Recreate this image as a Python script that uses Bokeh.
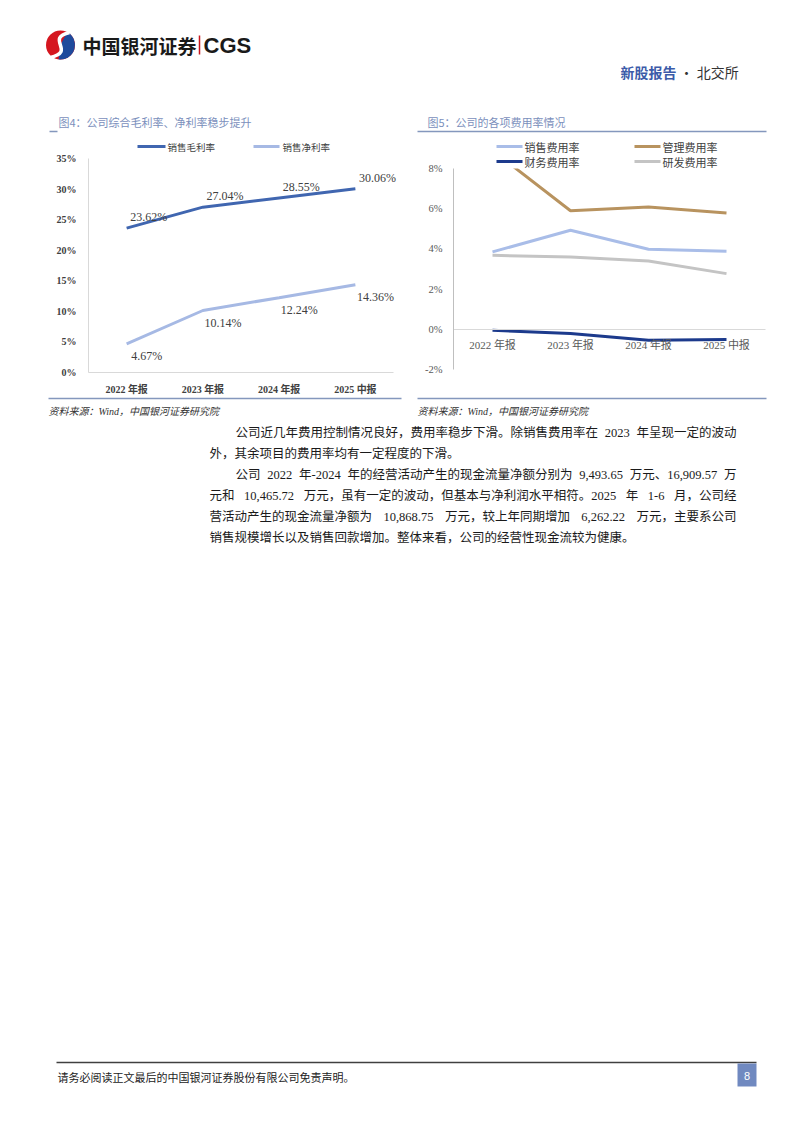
from bokeh.plotting import figure
from bokeh.models import Range1d, LinearAxis, FixedTicker, PrintfTickFormatter
from bokeh.core.properties import value
from bokeh.embed import file_html
from bokeh.resources import INLINE

# ---------------- data ----------------
categories = ["2022 年报", "2023 年报", "2024 年报", "2025 中报"]
gross_margin = [23.62, 27.04, 28.55, 30.06]
net_margin = [4.67, 10.14, 12.24, 14.36]
selling_rate = [3.85, 4.93, 3.98, 3.88]
admin_rate = [8.90, 5.90, 6.08, 5.79]
finance_rate = [-0.05, -0.21, -0.55, -0.51]
rd_rate = [3.68, 3.60, 3.40, 2.77]
c4_ticks = [0, 5, 10, 15, 20, 25, 30, 35]
c5_ticks = [-2, 0, 2, 4, 6, 8]
c4_series = ["销售毛利率", "销售净利率"]
c5_series = ["销售费用率", "管理费用率", "财务费用率", "研发费用率"]

body_lines = [
    "公司近几年费用控制情况良好，费用率稳步下滑。除销售费用率在 2023 年呈现一定的波动",
    "外，其余项目的费用率均有一定程度的下滑。",
    "公司 2022 年-2024 年的经营活动产生的现金流量净额分别为 9,493.65 万元、16,909.57 万",
    "元和 10,465.72 万元，虽有一定的波动，但基本与净利润水平相符。2025 年 1-6 月，公司经",
    "营活动产生的现金流量净额为 10,868.75 万元，较上年同期增加 6,262.22 万元，主要系公司",
    "销售规模增长以及销售回款增加。整体来看，公司的经营性现金流较为健康。",
]
body_indent = [True, False, True, False, False, False]
body_justified = [True, False, True, True, True, False]

# ---------------- layout ----------------
W, H = 778, 1107
X0, Y0 = 0, 0
X1, Y1 = X0 + W, Y0 + H

CJK_NAME = "Noto Sans CJK SC"
SERIF_NAME = "Liberation Serif"
MIX_NAME = "Liberation Serif, Noto Sans CJK SC"
CJK = value(CJK_NAME)
SERIF = value(SERIF_NAME)
MIX = value(MIX_NAME)


def lin_range(v0, p0, v1, p1, start_px, end_px):
    k = (v1 - v0) / (p1 - p0)
    return Range1d(v0 + (start_px - p0) * k, v0 + (end_px - p0) * k)


idx = list(range(len(categories)))
n = len(categories)

p = figure(width=W, height=H, x_range=Range1d(X0, X1), y_range=Range1d(Y1, Y0),
           x_axis_type=None, y_axis_type=None, toolbar_location=None,
           output_backend="svg", min_border=0, outline_line_color=None,
           background_fill_color="white", border_fill_color="white")

# chart 4 plot area: x 88..393, y 0% -> 372, 35% -> 158
# chart 5 plot area: x 453..765, y 8% -> 168, -2% -> 369
p.extra_x_ranges = {
    "c4x": lin_range(-0.5, 88, n - 0.5, 393, X0, X1),
    "c5x": lin_range(-0.5, 453, n - 0.5, 765, X0, X1),
}
p.extra_y_ranges = {
    "c4y": lin_range(0, 372, 35, 158, Y1, Y0),
    "c5y": lin_range(-2, 369, 8, 168, Y1, Y0),
}


def make_axis(kind, xr, yr, loc, bounds, ticks, line_color, font, size, style, color, standoff, overrides=None, fmt=None):
    ax = LinearAxis(x_range_name=xr, y_range_name=yr, fixed_location=loc, bounds=bounds,
                    ticker=FixedTicker(ticks=ticks), axis_line_color=line_color,
                    axis_line_width=1, major_tick_line_color=None, minor_tick_line_color=None,
                    major_tick_out=0, major_tick_in=0, major_label_standoff=standoff,
                    major_label_text_font=font, major_label_text_font_size=size,
                    major_label_text_font_style=style, major_label_text_color=color)
    if overrides is not None:
        ax.major_label_overrides = overrides
    if fmt is not None:
        ax.formatter = PrintfTickFormatter(format=fmt)
    p.add_layout(ax, kind)
    return ax


cat_over = {i: c for i, c in enumerate(categories)}

# ---------- chart 4 ----------
make_axis("left", "c4x", "c4y", -0.5, (0, 35), c4_ticks, "#d9d9d9", SERIF_NAME, "10px", "bold", "#404040", 12, fmt="%d%%")
make_axis("below", "c4x", "c4y", 0, (-0.5, n - 0.5), idx, "#d9d9d9", MIX_NAME, "10px", "bold", "#404040", 11, overrides=cat_over)

c4_colors = ["#4066b0", "#a6b9e4"]
p.line(idx, gross_margin, x_range_name="c4x", y_range_name="c4y", line_color=c4_colors[0], line_width=3)
p.line(idx, net_margin, x_range_name="c4x", y_range_name="c4y", line_color=c4_colors[1], line_width=3)
p.text(idx, gross_margin, text=[f"{v:.2f}%" for v in gross_margin], x_range_name="c4x", y_range_name="c4y",
       text_font=SERIF, text_font_size="12px", text_color="#404040", text_align="center",
       text_baseline="middle", x_offset=22, y_offset=-11)
p.text(idx, net_margin, text=[f"{v:.2f}%" for v in net_margin], x_range_name="c4x", y_range_name="c4y",
       text_font=SERIF, text_font_size="12px", text_color="#404040", text_align="center",
       text_baseline="middle", x_offset=20, y_offset=12)

# ---------- chart 5 ----------
c5_colors = ["#a9bde8", "#b8935f", "#1c3a8c", "#c4c4c4"]
make_axis("left", "c5x", "c5y", -0.5, (-2, 8), c5_ticks, "#bfbfbf", SERIF_NAME, "10.5px", "normal", "#595959", 11, fmt="%d%%")
make_axis("below", "c5x", "c5y", 0, (-0.5, n - 0.5), idx, "#d9d9d9", MIX_NAME, "11px", "normal", "#595959", 10, overrides=cat_over)
for series, col in zip([rd_rate, selling_rate, admin_rate, finance_rate],
                       [c5_colors[3], c5_colors[0], c5_colors[1], c5_colors[2]]):
    p.line(idx, series, x_range_name="c5x", y_range_name="c5y", line_color=col, line_width=3)
# plot-area clipping above the 8% limit
p.quad(left=-0.5, right=n - 0.5, bottom=max(c5_ticks), top=p.extra_y_ranges["c5y"].end,
       x_range_name="c5x", y_range_name="c5y", fill_color="white", line_color=None)

# ---------- page decorations (page pixel coordinates) ----------
# logo
p.circle(x=[60], y=[44.5], radius=14.5, fill_color="#d5161f", line_color=None)
p.wedge(x=[60], y=[44.5], radius=14.5, start_angle=-1.7, end_angle=1.1, fill_color="#1f4a9c", line_color=None)
p.bezier(x0=[69], y0=[32], x1=[50], y1=[57], cx0=[44], cy0=[38], cx1=[76], cy1=[51],
         line_color="white", line_width=3.5)
p.text([82], [44.5], text=["中国银河证券"], text_font=CJK, text_font_size="19px", text_font_style="bold",
       text_color="#1a1a1a", text_baseline="middle")
p.segment(x0=[199], y0=[35], x1=[199], y1=[54], line_color="#c8161e", line_width=1.5)
p.text([203], [45], text=["CGS"], text_font=value("Liberation Sans"), text_font_size="22px",
       text_font_style="bold", text_color="#1a1a1a", text_baseline="middle")
p.text([620], [71], text=["新股报告"], text_font=CJK, text_font_size="14px", text_font_style="bold",
       text_color="#3c5ba9", text_baseline="middle")
p.text([679], [71], text=["· 北交所"], text_font=CJK, text_font_size="14px",
       text_color="#333333", text_baseline="middle")

# chart titles / rules
p.text([58], [121], text=["图4：公司综合毛利率、净利率稳步提升"], text_font=CJK, text_font_size="11px",
       text_color="#7b8fbc", text_baseline="middle")
p.text([427], [121], text=["图5：公司的各项费用率情况"], text_font=CJK, text_font_size="11px",
       text_color="#7b8fbc", text_baseline="middle")
p.segment(x0=[49, 417, 48, 417], y0=[131, 131, 398, 398], x1=[57, 766, 401, 766], y1=[131, 131, 398, 398],
          line_color="#8497bd", line_width=1.3)
p.text([48, 417], [410.5, 410.5], text=["资料来源：Wind，中国银河证券研究院"] * 2, text_font=MIX, text_font_size="10px",
       text_font_style="italic", text_color="#333333", text_baseline="middle")

# chart 4 legend
p.segment(x0=[137, 253], y0=[146, 146], x1=[165, 279], y1=[146, 146], line_color=c4_colors, line_width=3)
p.text([167, 282], [146, 146], text=c4_series, text_font=CJK, text_font_size="9.5px",
       text_color="#404040", text_baseline="middle")

# chart 5 legend
lx = [496, 634, 496, 634]
ly = [146, 146, 161, 161]
p.segment(x0=lx, y0=ly, x1=[v + 26 for v in lx], y1=ly, line_color=c5_colors, line_width=3)
p.text([v + 28 for v in lx], ly, text=c5_series, text_font=CJK, text_font_size="11px",
       text_color="#404040", text_baseline="middle")

# body text (justified lines are split at their spaces and spread to the right margin)
FS = 12.5


def est_width(s):
    w = 0.0
    for ch in s:
        if ord(ch) > 0x2E80:
            w += FS
        elif ch.isdigit():
            w += FS * 0.5
        elif ch in ".,":
            w += FS * 0.25
        elif ch == "-":
            w += FS * 0.333
        else:
            w += FS * 0.5
    return w


RIGHT = 736
seg_x, seg_y, seg_t, seg_a = [], [], [], []
for i, line in enumerate(body_lines):
    x0 = 235 if body_indent[i] else 209
    y = 432 + 21 * i
    if not body_justified[i]:
        seg_x.append(x0); seg_y.append(y); seg_t.append(line); seg_a.append("left")
        continue
    parts = line.split(" ")
    widths = [est_width(s) for s in parts]
    gap = (RIGHT - x0 - sum(widths)) / (len(parts) - 1)
    x = x0
    for j, (s, w) in enumerate(zip(parts, widths)):
        if j == len(parts) - 1:
            seg_x.append(RIGHT); seg_a.append("right")
        else:
            seg_x.append(x); seg_a.append("left")
        seg_y.append(y); seg_t.append(s)
        x += w + gap

p.text(seg_x, seg_y, text=seg_t, text_align=seg_a, text_font=MIX, text_font_size=f"{FS}px",
       text_color="#1a1a1a", text_baseline="middle")

# footer
p.segment(x0=[56], y0=[1062], x1=[756], y1=[1062], line_color="#404040", line_width=1.5)
p.text([57], [1076], text=["请务必阅读正文最后的中国银河证券股份有限公司免责声明。"], text_font=CJK,
       text_font_size="11px", text_color="#222222", text_baseline="middle")
p.quad(left=[737], right=[756], top=[1063], bottom=[1086], fill_color="#7089c0", line_color=None)
p.text([746.5], [1075], text=["8"], text_font=value("Liberation Sans"), text_font_size="11px",
       text_color="white", text_align="center", text_baseline="middle")

open("out.html", "w").write(file_html(p, INLINE))
